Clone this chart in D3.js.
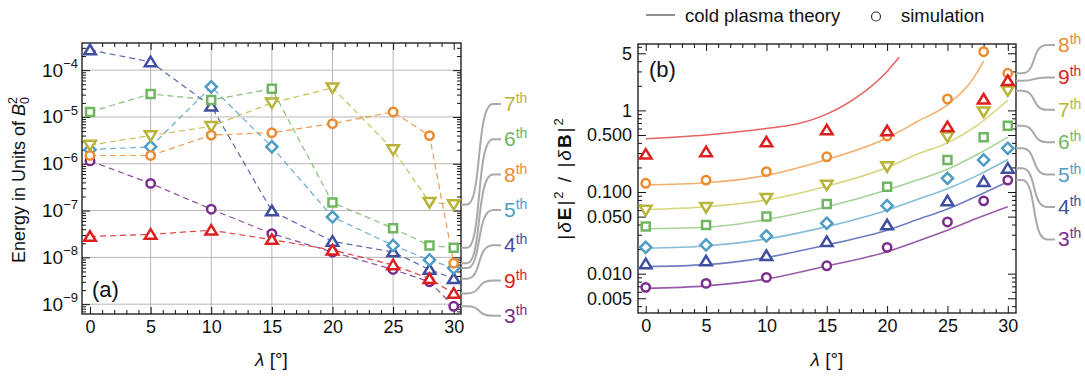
<!DOCTYPE html>
<html>
<head>
<meta charset="utf-8">
<script src="https://cdn.jsdelivr.net/npm/d3@7"></script>
<style>
  body { margin: 0; background: #fff; }
  svg text { font-family: "Liberation Sans", Arial, sans-serif; fill: #111; }
</style>
</head>
<body>
<div id="chart"></div>
<script>
// ---- data ----
const harmonics = [3, 4, 5, 6, 7, 8, 9];
const markerColors = { 3: '#7b2d8e', 4: '#3f4ea0', 5: '#4e9dc5', 6: '#70b660', 7: '#b8b43a', 8: '#ec8a2f', 9: '#de1f1f' };
const theoryColors = { 3: '#9a5aac', 4: '#6f7ec2', 5: '#86bdd8', 6: '#a8d39a', 7: '#d9d57e', 8: '#f2b070', 9: '#e86462' };
const markerShapes = { 3: 'circle', 4: 'up', 5: 'diamond', 6: 'square', 7: 'down', 8: 'circle', 9: 'up' };

const simLambda = [0, 5, 10, 15, 20, 25, 28, 30];

// (a) energy in units of B0^2
const energy3 = [1.15e-6, 3.8e-7, 1.07e-7, 3.2e-8, 1.3e-8, 5.5e-9, 3.0e-9, 9.0e-10];
const energy4 = [2.7e-4, 1.5e-4, 1.7e-5, 9.8e-8, 2.2e-8, 1.3e-8, 5.5e-9, 3.5e-9];
const energy5 = [2.0e-6, 2.3e-6, 4.4e-5, 2.3e-6, 7.3e-8, 1.8e-8, 8.8e-9, 5.9e-9];
const energy6 = [1.28e-5, 3.1e-5, 2.3e-5, 4.0e-5, 1.48e-7, 4.2e-8, 1.8e-8, 1.6e-8];
const energy7 = [2.5e-6, 4.0e-6, 6.3e-6, 2.0e-5, 4.2e-5, 2.0e-6, 1.5e-7, 1.35e-7];
const energy8 = [1.5e-6, 1.5e-6, 4.1e-6, 4.6e-6, 7.2e-6, 1.28e-5, 4.0e-6, 7.5e-9];
const energy9 = [2.8e-8, 3.1e-8, 3.8e-8, 2.4e-8, 1.43e-8, 6.9e-9, 3.5e-9, 1.7e-9];

// (b) |dE|^2/|dB|^2, simulation
const ratio3 = [0.0068, 0.0076, 0.0090, 0.0125, 0.021, 0.043, 0.078, 0.14];
const ratio4 = [0.0132, 0.0143, 0.0166, 0.0247, 0.0395, 0.078, 0.134, 0.195];
const ratio5 = [0.021, 0.0225, 0.029, 0.0414, 0.068, 0.147, 0.247, 0.343];
const ratio6 = [0.0377, 0.0395, 0.050, 0.0714, 0.116, 0.247, 0.468, 0.65];
const ratio7 = [0.060, 0.065, 0.084, 0.122, 0.205, 0.476, 0.96, 1.74];
const ratio8 = [0.128, 0.14, 0.178, 0.27, 0.486, 1.38, 5.23, 2.85];
const ratio9 = [0.29, 0.31, 0.41, 0.575, 0.56, 0.63, 1.37, 2.31];

// (b) cold plasma theory
const theoryLambda = [0, 5, 10, 15, 20, 22.5, 25, 27.5, 30];
const theory3 = [0.0066, 0.0071, 0.0086, 0.0124, 0.0186, 0.025, 0.034, 0.048, 0.066];
const theory4 = [0.0122, 0.0129, 0.0158, 0.0225, 0.034, 0.046, 0.062, 0.09, 0.134];
const theory5 = [0.0205, 0.0218, 0.0266, 0.0377, 0.060, 0.081, 0.11, 0.16, 0.25];
const theory6 = [0.0355, 0.037, 0.046, 0.066, 0.106, 0.14, 0.19, 0.29, 0.47];
const theory7 = [0.061, 0.066, 0.080, 0.118, 0.20, 0.29, 0.40, 0.66, 1.34];
const theory8Lambda = [0, 5, 10, 15, 20, 22.5, 25, 27, 28];
const theory8 = [0.122, 0.13, 0.16, 0.25, 0.46, 0.73, 1.17, 2.3, 4.0];
const theory9Lambda = [0, 5, 10, 12.5, 15, 17.5, 20, 21];
const theory9 = [0.45, 0.50, 0.60, 0.68, 0.90, 1.45, 3.0, 4.47];

const xMajorTicks = [0, 5, 10, 15, 20, 25, 30];
const ratioTicks = [0.005, 0.01, 0.05, 0.1, 0.5, 1, 5];
const ratioTickLabels = ['0.005', '0.010', '0.050', '0.100', '0.500', '1', '5'];
const energyTicks = [1e-9, 1e-8, 1e-7, 1e-6, 1e-5, 1e-4];
const energyTickExp = ['\u22129', '\u22128', '\u22127', '\u22126', '\u22125', '\u22124'];

// label order next to each panel (top to bottom)
const leftLabelOrder = [7, 6, 8, 5, 4, 9, 3];
const rightLabelOrder = [8, 9, 7, 6, 5, 4, 3];

const energyData = { 3: energy3, 4: energy4, 5: energy5, 6: energy6, 7: energy7, 8: energy8, 9: energy9 };
const ratioData = { 3: ratio3, 4: ratio4, 5: ratio5, 6: ratio6, 7: ratio7, 8: ratio8, 9: ratio9 };
const theoryData = {
  3: d3.zip(theoryLambda, theory3), 4: d3.zip(theoryLambda, theory4), 5: d3.zip(theoryLambda, theory5),
  6: d3.zip(theoryLambda, theory6), 7: d3.zip(theoryLambda, theory7),
  8: d3.zip(theory8Lambda, theory8), 9: d3.zip(theory9Lambda, theory9)
};

// ---- drawing ----
const W = 1085, H = 377;
const svg = d3.select('#chart').append('svg').attr('width', W).attr('height', H);

const boxA = { x0: 82, x1: 461, y0: 43, y1: 314 };
const boxB = { x0: 638, x1: 1016, y0: 44, y1: 313 };

const xA = d3.scaleLinear().domain([-0.66, 30.6]).range([boxA.x0, boxA.x1]);
const yA = d3.scaleLog().domain([Math.pow(10, -9.21), Math.pow(10, -3.42)]).range([boxA.y1, boxA.y0]);
const xB = d3.scaleLinear().domain([-0.64, 30.68]).range([boxB.x0, boxB.x1]);
const yB = d3.scaleLog().domain([0.0033, 6.5]).range([boxB.y1, boxB.y0]);

const minorX = d3.range(0, 31).filter(d => d % 5 !== 0);
function logMinors(scale, skip) {
  const [d0, d1] = scale.domain();
  const out = [];
  for (let e = Math.floor(Math.log10(d0)); e <= Math.ceil(Math.log10(d1)); e++) {
    for (let k = 1; k <= 9; k++) {
      const v = k * Math.pow(10, e);
      if (v >= d0 && v <= d1 && !skip.some(s => Math.abs(s - v) / v < 1e-6)) out.push(v);
    }
  }
  return out;
}

function styleAxis(g) {
  g.select('.domain').remove();
  g.selectAll('line').attr('stroke', '#111').attr('stroke-width', 1);
  g.attr('font-size', 18).attr('font-family', null);
  g.selectAll('text').attr('fill', '#111');
}

function drawFrame(box, x, y, yMajor, yMinor, yFormat) {
  const g = svg.append('g');
  // bottom / top
  g.append('g').attr('transform', `translate(0,${box.y1})`)
    .call(d3.axisBottom(x).tickValues(xMajorTicks).tickSize(-7).tickPadding(6).tickFormat(d3.format('d')))
    .call(styleAxis);
  g.append('g').attr('transform', `translate(0,${box.y1})`)
    .call(d3.axisBottom(x).tickValues(minorX).tickSize(-4).tickFormat(''))
    .call(styleAxis);
  g.append('g').attr('transform', `translate(0,${box.y0})`)
    .call(d3.axisTop(x).tickValues(xMajorTicks).tickSize(-7).tickFormat(''))
    .call(styleAxis);
  g.append('g').attr('transform', `translate(0,${box.y0})`)
    .call(d3.axisTop(x).tickValues(minorX).tickSize(-4).tickFormat(''))
    .call(styleAxis);
  // left / right
  g.append('g').attr('transform', `translate(${box.x0},0)`)
    .call(d3.axisLeft(y).tickValues(yMajor).tickSize(-8).tickPadding(6).tickFormat(yFormat))
    .call(styleAxis);
  g.append('g').attr('transform', `translate(${box.x0},0)`)
    .call(d3.axisLeft(y).tickValues(yMinor).tickSize(-4).tickFormat(''))
    .call(styleAxis);
  g.append('g').attr('transform', `translate(${box.x1},0)`)
    .call(d3.axisRight(y).tickValues(yMajor).tickSize(-8).tickFormat(''))
    .call(styleAxis);
  g.append('g').attr('transform', `translate(${box.x1},0)`)
    .call(d3.axisRight(y).tickValues(yMinor).tickSize(-4).tickFormat(''))
    .call(styleAxis);
  g.append('rect')
    .attr('x', box.x0).attr('y', box.y0)
    .attr('width', box.x1 - box.x0).attr('height', box.y1 - box.y0)
    .attr('fill', 'none').attr('stroke', '#111').attr('stroke-width', 1.3);
  return g;
}

function markerPath(shape) {
  if (shape === 'circle') return d3.symbol(d3.symbolCircle, Math.PI * 4.2 * 4.2)();
  if (shape === 'square') return 'M-4,-4H4V4H-4Z';
  if (shape === 'diamond') return 'M0,-5.6L5.6,0L0,5.6L-5.6,0Z';
  if (shape === 'up') return 'M0,-5.2L5.8,4.3L-5.8,4.3Z';
  return 'M0,5.2L5.8,-4.3L-5.8,-4.3Z';
}

function drawMarkers(layer, h, pts, x, y) {
  layer.selectAll(null).data(pts).enter().append('path')
    .attr('d', markerPath(markerShapes[h]))
    .attr('transform', d => `translate(${x(d[0])},${y(d[1])})`)
    .attr('fill', '#fff')
    .attr('stroke', markerColors[h])
    .attr('stroke-width', 2.5)
    .attr('stroke-linejoin', 'miter');
}

function drawLeaders(box, x, y, data, order, endX, firstY, stepY) {
  const g = svg.append('g');
  order.forEach((h, i) => {
    const y0 = y(data[h][data[h].length - 1]);
    const y1 = firstY + i * stepY;
    const x0 = box.x1;
    g.append('path')
      .attr('d', `M${x0},${y0}H${x0 + 6}C${x0 + 21},${y0} ${x0 + 15},${y1} ${endX - 8},${y1}H${endX}`)
      .attr('fill', 'none').attr('stroke', '#a9a9a9').attr('stroke-width', 2);
    const t = g.append('text').attr('x', endX + 3).attr('y', y1 + 7)
      .style('fill', markerColors[h]);
    t.append('tspan').attr('font-size', 21).text(h);
    t.append('tspan').attr('font-size', 14).attr('dy', -8).text('th');
  });
}

// ---------- panel (a) ----------
const gridA = svg.append('g');
gridA.selectAll(null).data([5, 10, 15, 20, 25]).enter().append('line')
  .attr('x1', d => xA(d)).attr('x2', d => xA(d))
  .attr('y1', boxA.y0).attr('y2', boxA.y1)
  .attr('stroke', '#bbb5b5').attr('stroke-width', 1);
gridA.selectAll(null).data(energyTicks).enter().append('line')
  .attr('x1', boxA.x0).attr('x2', boxA.x1)
  .attr('y1', d => yA(d)).attr('y2', d => yA(d))
  .attr('stroke', '#bbb5b5').attr('stroke-width', 1);

const frameA = drawFrame(boxA, xA, yA, energyTicks, logMinors(yA, energyTicks), () => '');
frameA.selectAll(null).data(energyTicks).enter().append('text')
  .attr('x', boxA.x0 - 4).attr('y', d => yA(d) + 6.5)
  .attr('text-anchor', 'end')
  .each(function (d, i) {
    const t = d3.select(this);
    t.append('tspan').attr('font-size', 19).text('10');
    t.append('tspan').attr('font-size', 13).attr('dy', -8.5).text(energyTickExp[i]);
  });

const plotA = svg.append('g');
const lineA = d3.line().x(d => xA(d[0])).y(d => yA(d[1]));
harmonics.forEach(h => {
  plotA.append('path')
    .attr('d', lineA(d3.zip(simLambda, energyData[h])))
    .attr('fill', 'none').attr('stroke', markerColors[h])
    .attr('stroke-width', 1.2).attr('stroke-dasharray', '6,4').attr('opacity', 0.85);
});
harmonics.forEach(h => drawMarkers(plotA, h, d3.zip(simLambda, energyData[h]), xA, yA));

svg.append('text').attr('x', 92).attr('y', 297).attr('font-size', 22).text('(a)');

// y title (a)
const titleA = svg.append('text')
  .attr('transform', 'translate(25,180) rotate(-90)')
  .attr('text-anchor', 'middle').attr('font-size', 18);
titleA.append('tspan').text('Energy in Units of ');
titleA.append('tspan').attr('font-style', 'italic').text('B');
titleA.append('tspan').attr('font-size', 12.5).attr('dy', 4).text('0');
titleA.append('tspan').attr('font-size', 12.5).attr('dx', -7).attr('dy', -12).text('2');

// x title (a)
const xtA = svg.append('text').attr('x', (boxA.x0 + boxA.x1) / 2).attr('y', 366)
  .attr('text-anchor', 'middle').attr('font-size', 19);
xtA.append('tspan').attr('font-style', 'italic').text('\u03bb');
xtA.append('tspan').text(' [\u00b0]');

drawLeaders(boxA, xA, yA, energyData, leftLabelOrder, 501, 104, 35.3);

// ---------- panel (b) ----------
const frameB = drawFrame(boxB, xB, yB, ratioTicks, logMinors(yB, ratioTicks),
  d => ratioTickLabels[ratioTicks.indexOf(d)]);

const plotB = svg.append('g');
const lineB = d3.line().x(d => xB(d[0])).y(d => yB(d[1])).curve(d3.curveMonotoneX);
harmonics.forEach(h => {
  plotB.append('path')
    .attr('d', lineB(theoryData[h]))
    .attr('fill', 'none').attr('stroke', theoryColors[h]).attr('stroke-width', 1.6);
});
harmonics.forEach(h => drawMarkers(plotB, h, d3.zip(simLambda, ratioData[h]), xB, yB));

svg.append('text').attr('x', 649).attr('y', 77).attr('font-size', 22).text('(b)');

// y title (b)
const titleB = svg.append('text')
  .attr('transform', 'translate(571,178) rotate(-90)')
  .attr('text-anchor', 'middle').attr('font-size', 19).attr('letter-spacing', 2);
titleB.append('tspan').text('|');
titleB.append('tspan').attr('font-style', 'italic').text('\u03b4');
titleB.append('tspan').attr('font-weight', 'bold').text('E');
titleB.append('tspan').text('|');
titleB.append('tspan').attr('font-size', 13).attr('dy', -8).text('2');
titleB.append('tspan').attr('dy', 8).text(' / |');
titleB.append('tspan').attr('font-style', 'italic').text('\u03b4');
titleB.append('tspan').attr('font-weight', 'bold').text('B');
titleB.append('tspan').text('|');
titleB.append('tspan').attr('font-size', 13).attr('dy', -8).text('2');

// x title (b)
const xtB = svg.append('text').attr('x', (boxB.x0 + boxB.x1) / 2).attr('y', 366)
  .attr('text-anchor', 'middle').attr('font-size', 19);
xtB.append('tspan').attr('font-style', 'italic').text('\u03bb');
xtB.append('tspan').text(' [\u00b0]');

drawLeaders(boxB, xB, yB, ratioData, rightLabelOrder, 1055, 45, 32.4);

// legend
const legend = svg.append('g');
legend.append('line').attr('x1', 646).attr('x2', 675).attr('y1', 15).attr('y2', 15)
  .attr('stroke', '#222').attr('stroke-width', 1);
legend.append('text').attr('x', 685).attr('y', 21.5).attr('font-size', 18.5).text('cold plasma theory');
legend.append('circle').attr('cx', 876).attr('cy', 16.5).attr('r', 4.5)
  .attr('fill', 'none').attr('stroke', '#333').attr('stroke-width', 1.2);
legend.append('text').attr('x', 901).attr('y', 21.5).attr('font-size', 18.5).text('simulation');
</script>
</body>
</html>
